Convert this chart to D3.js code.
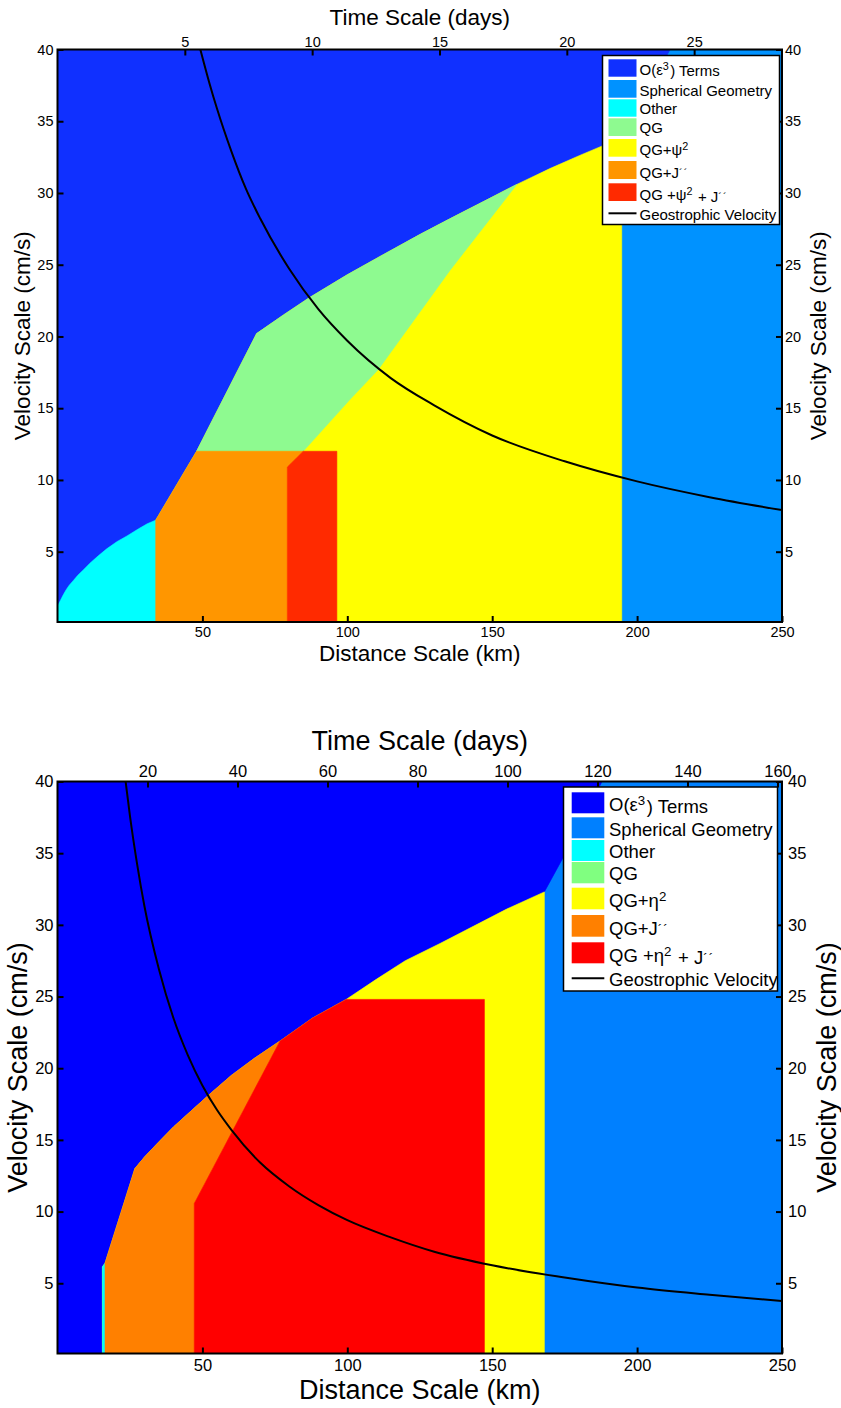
<!DOCTYPE html>
<html>
<head>
<meta charset="utf-8">
<script src="https://cdn.jsdelivr.net/npm/d3@7"></script>
<style>
  body { margin: 0; background: #fff; }
  svg { display: block; }
  text { font-family: "Liberation Sans", Arial, Helvetica, sans-serif; fill: #000; }
</style>
</head>
<body>
<svg id="chart" width="841" height="1408"></svg>
<script>
// ---- tick values ----
const distanceTicks = [50, 100, 150, 200, 250];
const velocityTicks = [5, 10, 15, 20, 25, 30, 35, 40];
const upperTimeTicks = [5, 10, 15, 20, 25];
const lowerTimeTicks = [20, 40, 60, 80, 100, 120, 140, 160];

// ---- legend entries (^{..} = superscript, '{..} = raised accents) ----
const upperLabels = ["O(\u03B5^{3}) Terms", "Spherical Geometry", "Other", "QG",
  "QG+\u03C8^{2}", "QG+J'{\u00B4\u00B4}", "QG +\u03C8^{2} + J'{\u00B4\u00B4}", "Geostrophic Velocity"];
const lowerLabels = ["O(\u03B5^{3}) Terms", "Spherical Geometry", "Other", "QG",
  "QG+\u03B7^{2}", "QG+J'{\u00B4\u00B4}", "QG +\u03B7^{2} + J'{\u00B4\u00B4}", "Geostrophic Velocity"];

// region colours: eps3, spherical, other, QG, QG+nl, QG+J, QG+nl+J
const upperColors = ["#1030ff", "#0092ff", "#00ffff", "#8efa90", "#ffff00", "#ff9600", "#ff2a00"];
const lowerColors = ["#0000ff", "#0080ff", "#00ffff", "#80ff80", "#ffff00", "#ff8000", "#ff0000"];

// ---- upper panel (psi^2 formulation), points are [distance km, velocity cm/s] ----
const upperOtherEdge = [[0, 1.2], [0.5, 1.4], [1, 1.6], [2, 2.0], [3, 2.35], [4, 2.65], [5.5, 3.0],
  [7, 3.35], [9, 3.75], [11.2, 4.2], [14, 4.7], [17, 5.2], [20.5, 5.7], [24, 6.1], [28, 6.6],
  [31, 6.95], [33.9, 7.2]];
const upperEps3Edge = [[33.9, 7.2], [48, 12], [68.7, 20.2], [78, 21.5], [86.9, 22.7], [100, 24.3],
  [112.4, 25.7], [125, 27.1], [135.4, 28.2], [147, 29.4], [158.5, 30.6], [169.9, 31.7],
  [180, 32.6], [188.2, 33.3], [194.7, 33.9]];
const upperSphericalTop = [[194.7, 33.9], [211.4, 40]];
const upperQGEdge = [[84.8, 12], [100.9, 15.6], [110.7, 17.7], [135.4, 24.6], [158.5, 30.6]];
const upperQGJ = [[33.9, 0], [33.9, 7.2], [48, 12], [84.8, 12], [79.3, 10.9], [79.3, 0]];
const upperQGPsiJ = [[79.3, 0], [79.3, 10.9], [84.8, 12], [96.4, 12], [96.4, 0]];
const upperGeostrophic = [[49.3, 40], [52.5, 37.6], [55, 35.9], [60, 32.9], [65, 30.3], [70, 28.2],
  [80, 24.7], [90, 21.9], [100, 19.7], [115, 17.1], [130, 15.2], [150, 13.1], [175, 11.3],
  [200, 9.9], [225, 8.8], [250, 7.9]];

// ---- lower panel (eta^2 formulation) ----
const lowerOtherStrip = [[15.5, 0], [15.5, 6.15], [16.4, 6.4], [16.4, 0]];
const lowerEps3Edge = [[15.5, 6.15], [16.4, 6.4], [26.7, 13.0], [30, 13.8], [34.2, 14.7], [40, 15.9],
  [46, 17.0], [52.6, 18.2], [60, 19.5], [68, 20.7], [76.8, 21.9], [88, 23.5], [99.6, 24.8],
  [110, 26.2], [120, 27.5], [132, 28.7], [143.5, 29.9], [155, 31.1], [168, 32.3]];
const lowerSphericalTop = [[168, 32.3], [174.5, 34.7], [187.9, 40]];
const lowerQGJ = [[16.4, 0], [16.4, 6.4], [26.7, 13.0], [30, 13.8], [34.2, 14.7], [40, 15.9],
  [46, 17.0], [52.6, 18.2], [60, 19.5], [68, 20.7], [76.8, 21.9], [47.2, 10.57], [47.2, 0]];
const lowerQGEtaJ = [[47.2, 0], [47.2, 10.57], [76.8, 21.9], [88, 23.5], [99.6, 24.8], [147.3, 24.8],
  [147.3, 0]];
const lowerGeostrophic = [[23.5, 40], [25, 37.6], [27.5, 34.2], [30, 31.3], [35, 26.9], [40, 23.5],
  [45, 20.9], [50, 18.8], [55, 17.1], [60, 15.7], [70, 13.4], [80, 11.75], [90, 10.45], [100, 9.4],
  [115, 8.2], [130, 7.2], [150, 6.25], [175, 5.4], [200, 4.7], [225, 4.2], [250, 3.76]];

const svg = d3.select("#chart");

// write a label with ^{} superscripts and '{} raised accents
function richText(sel, str) {
  const re = /(\^\{[^}]*\}|'\{[^}]*\})/;
  str.split(re).filter(s => s.length).forEach(part => {
    if (part.startsWith("^{")) {
      sel.append("tspan").attr("font-size", "0.72em").attr("dy", "-0.45em").text(part.slice(2, -1));
      sel.append("tspan").attr("dy", "0.45em").text("\u200A");
    } else if (part.startsWith("'{")) {
      sel.append("tspan").attr("font-size", "0.72em").attr("dy", "-0.12em").attr("letter-spacing", "1").text(part.slice(2, -1));
      sel.append("tspan").attr("dy", "0.12em").text("\u200A");
    } else {
      sel.append("tspan").text(part);
    }
  });
}

function drawPanel(p) {
  const x = d3.scaleLinear().domain([0, 250]).range([p.left, p.right]);
  const y = d3.scaleLinear().domain([0.1, 40]).range([p.bottom, p.top]);
  const t = d3.scaleLinear().domain([0, p.timeMax]).range([p.left, p.right]);
  const g = svg.append("g");
  const clipId = "clip-" + p.id;
  g.append("clipPath").attr("id", clipId).append("rect")
    .attr("x", p.left).attr("y", p.top).attr("width", p.right - p.left).attr("height", p.bottom - p.top);

  const area = g.append("g").attr("clip-path", `url(#${clipId})`);
  const poly = d3.line().x(d => x(d[0])).y(d => y(d[1]));
  const c = p.colors;

  // spherical geometry underneath everything
  area.append("rect").attr("x", p.left).attr("y", p.top)
    .attr("width", p.right - p.left).attr("height", p.bottom - p.top).attr("fill", c[1]);
  p.shapes.forEach(s => {
    area.append("path").attr("d", poly(s.pts) + "Z").attr("fill", c[s.color])
      .attr("stroke", c[s.color]).attr("stroke-width", 0.6);
  });

  // geostrophic velocity curve
  area.append("path").datum(p.curve)
    .attr("d", d3.line().x(d => x(d[0])).y(d => y(d[1])).curve(d3.curveMonotoneX))
    .attr("fill", "none").attr("stroke", "#000").attr("stroke-width", 2);

  // axes (ticks pointing inward)
  const fs = p.tickFont;
  const ax = g.append("g");
  ax.append("g").attr("transform", `translate(0,${p.bottom})`)
    .call(d3.axisBottom(x).tickValues(distanceTicks).tickSize(-6).tickPadding(p.bottomPad).tickFormat(d3.format("d")));
  ax.append("g").attr("transform", `translate(0,${p.top})`)
    .call(d3.axisTop(t).tickValues(p.timeTicks).tickSize(-6).tickPadding(p.topPad).tickFormat(d3.format("d")));
  ax.append("g").attr("transform", `translate(${p.left},0)`)
    .call(d3.axisLeft(y).tickValues(velocityTicks).tickSize(-6).tickPadding(4).tickFormat(d3.format("d")));
  ax.append("g").attr("transform", `translate(${p.right},0)`)
    .call(d3.axisRight(y).tickValues(velocityTicks).tickSize(-6).tickPadding(p.rightPad).tickFormat(d3.format("d")));
  ax.selectAll(".domain").remove();
  ax.selectAll(".tick line").attr("stroke", "#000").attr("stroke-width", 2);
  ax.selectAll(".tick text").attr("fill", "#000").attr("font-size", fs);

  g.append("rect").attr("x", p.left).attr("y", p.top)
    .attr("width", p.right - p.left).attr("height", p.bottom - p.top)
    .attr("fill", "none").attr("stroke", "#000").attr("stroke-width", 2);

  // axis titles
  const tf = p.titleFont;
  g.append("text").attr("x", (p.left + p.right) / 2).attr("y", p.timeTitleY)
    .attr("text-anchor", "middle").attr("font-size", tf).text("Time Scale (days)");
  g.append("text").attr("x", (p.left + p.right) / 2).attr("y", p.distTitleY)
    .attr("text-anchor", "middle").attr("font-size", tf).text("Distance Scale (km)");
  const midY = (p.top + p.bottom) / 2;
  [p.velTitleLeftX, p.velTitleRightX].forEach(vx => {
    g.append("text").attr("transform", `translate(${vx},${midY}) rotate(-90)`)
      .attr("text-anchor", "middle").attr("font-size", tf).text("Velocity Scale (cm/s)");
  });

  // legend
  const L = p.legend;
  const lg = g.append("g").attr("font-size", L.font);
  lg.append("rect").attr("x", L.x0).attr("y", L.y0).attr("width", L.x1 - L.x0).attr("height", L.y1 - L.y0)
    .attr("fill", "#fff").attr("stroke", "#000").attr("stroke-width", 1.5);
  p.labels.forEach((lab, i) => {
    if (i < 7) {
      const r = L.rows[i];
      lg.append("rect").attr("x", L.sx0).attr("y", r[0]).attr("width", L.sx1 - L.sx0).attr("height", r[1] - r[0])
        .attr("fill", c[i]);
      richText(lg.append("text").attr("x", L.tx).attr("y", (r[0] + r[1]) / 2 + L.base[i]), lab);
    } else {
      lg.append("line").attr("x1", L.sx0).attr("x2", L.sx1).attr("y1", L.lineY).attr("y2", L.lineY)
        .attr("stroke", "#000").attr("stroke-width", 2);
      richText(lg.append("text").attr("x", L.tx).attr("y", L.lineY + L.base[i]), lab);
    }
  });
}

// upper panel
drawPanel({
  id: "upper", left: 57.5, right: 782, top: 49.5, bottom: 622, timeMax: 28.45,
  timeTicks: upperTimeTicks, tickFont: 14.5, bottomPad: 5, topPad: 3, rightPad: 3, titleFont: 22.5,
  timeTitleY: 25, distTitleY: 661, velTitleLeftX: 30, velTitleRightX: 826,
  colors: upperColors, labels: upperLabels, curve: upperGeostrophic,
  shapes: [
    { color: 0, pts: [[0, 40], ...upperSphericalTop.slice().reverse(), ...upperEps3Edge.slice().reverse(), ...upperOtherEdge.slice().reverse()] },
    { color: 4, pts: [...upperEps3Edge, [194.7, 0], [33.9, 0]] },
    { color: 3, pts: [...upperEps3Edge.filter(d => d[0] >= 48 && d[0] <= 158.5), ...upperQGEdge.slice().reverse()] },
    { color: 2, pts: [...upperOtherEdge, [33.9, 0], [0, 0]] },
    { color: 5, pts: upperQGJ },
    { color: 6, pts: upperQGPsiJ }
  ],
  legend: {
    x0: 602.5, x1: 779.5, y0: 55.5, y1: 224.5, font: 15,
    sx0: 608.5, sx1: 636.5, tx: 639.5, lineY: 213.3,
    rows: [[59.3, 76.7], [80, 97.7], [99.3, 116.7], [118.3, 136], [139, 156.7], [161, 179], [183.3, 201]],
    base: [6.5, 6.8, 6.3, 6, 7.2, 8.2, 7.8, 6.5]
  }
});

// lower panel
drawPanel({
  id: "lower", left: 57.5, right: 782, top: 781.5, bottom: 1353.5, timeMax: 161,
  timeTicks: lowerTimeTicks, tickFont: 16.5, bottomPad: 6, topPad: 5, rightPad: 6, titleFont: 27,
  timeTitleY: 750, distTitleY: 1399, velTitleLeftX: 27, velTitleRightX: 836,
  colors: lowerColors, labels: lowerLabels, curve: lowerGeostrophic,
  shapes: [
    { color: 0, pts: [[0, 0], [0, 40], ...lowerSphericalTop.slice().reverse(), ...lowerEps3Edge.slice().reverse(), [15.5, 0]] },
    { color: 4, pts: [...lowerEps3Edge, [168, 0], [15.5, 0]] },
    { color: 2, pts: lowerOtherStrip },
    { color: 5, pts: lowerQGJ },
    { color: 6, pts: lowerQGEtaJ }
  ],
  legend: {
    x0: 563.5, x1: 777.5, y0: 787, y1: 991, font: 18.5,
    sx0: 571.7, sx1: 604.3, tx: 609, lineY: 978.3,
    rows: [[792.3, 813.3], [817.3, 838.3], [840, 861], [862, 883.3], [887.7, 909.3], [915, 936.7], [942.3, 963.3]],
    base: [8, 8, 7.5, 7, 8.5, 9.5, 9, 7.5]
  }
});
</script>
</body>
</html>
